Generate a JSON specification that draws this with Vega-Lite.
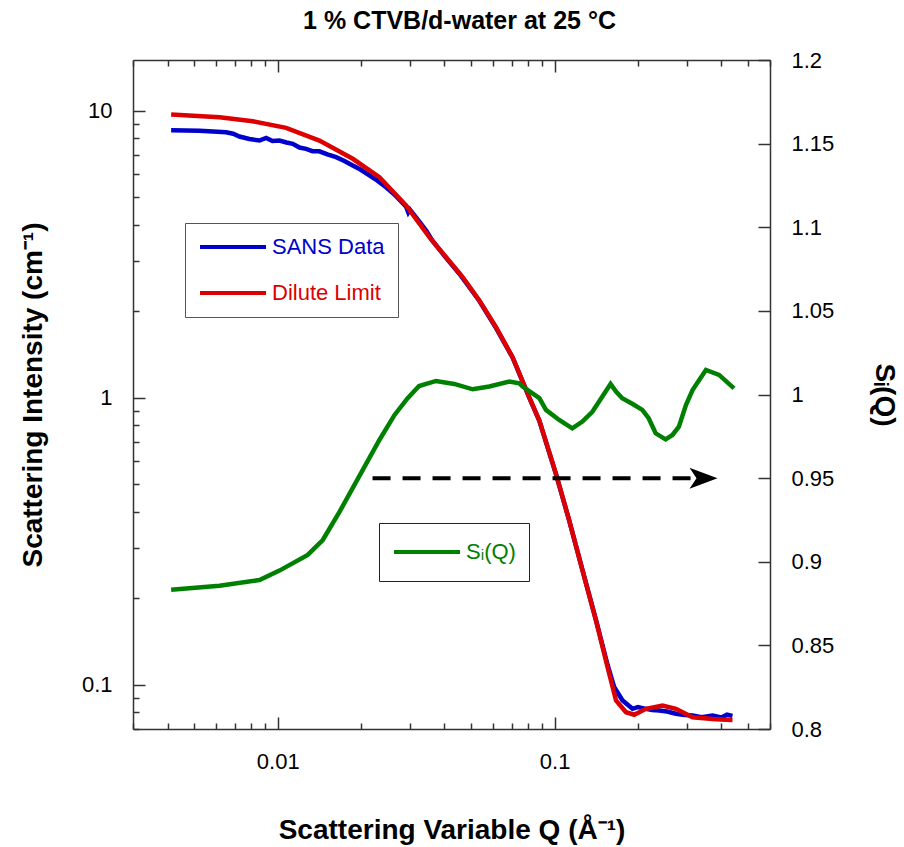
{
  "$schema": "https://vega.github.io/schema/vega-lite/v6.json",
  "autosize": {"type": "none"},
  "padding": {"left": 133, "top": 60, "right": 134, "bottom": 118},
  "width": 637,
  "height": 669,
  "background": "white",
  "title": {
    "text": "1 % CTVB/d-water at 25 °C",
    "font": "Liberation Sans",
    "fontSize": 25,
    "fontWeight": "bold",
    "color": "black",
    "anchor": "middle",
    "offset": 15,
    "dx": 8
  },
  "config": {
    "view": {"stroke": null},
    "axis": {
      "labelFont": "Liberation Sans",
      "labelFontSize": 22,
      "labelColor": "black",
      "titleFont": "Liberation Sans",
      "titleFontSize": 28,
      "titleFontWeight": "bold",
      "titleColor": "black",
      "domainColor": "#333",
      "domainWidth": 1.5,
      "tickColor": "#333",
      "tickWidth": 1.5,
      "grid": false,
      "labelOverlap": false,
      "labelBound": false,
      "labelFlush": false
    },
    "legend": {
      "labelFont": "Liberation Sans",
      "labelFontSize": 22,
      "symbolType": "stroke",
      "symbolStrokeWidth": 4,
      "symbolSize": 4356,
      "labelOffset": 4,
      "fillColor": "white",
      "padding": 13,
      "title": null,
      "orient": "none"
    }
  },
  "datasets": {
    "curves": [
      {"series": "SANS Data", "q": 0.00412, "i": 8.54},
      {"series": "SANS Data", "q": 0.00522, "i": 8.51},
      {"series": "SANS Data", "q": 0.00651, "i": 8.40},
      {"series": "SANS Data", "q": 0.0069, "i": 8.30},
      {"series": "SANS Data", "q": 0.00727, "i": 8.12},
      {"series": "SANS Data", "q": 0.0079, "i": 7.96},
      {"series": "SANS Data", "q": 0.00859, "i": 7.86},
      {"series": "SANS Data", "q": 0.00908, "i": 8.03},
      {"series": "SANS Data", "q": 0.00957, "i": 7.83},
      {"series": "SANS Data", "q": 0.01014, "i": 7.86},
      {"series": "SANS Data", "q": 0.01075, "i": 7.74},
      {"series": "SANS Data", "q": 0.01133, "i": 7.66},
      {"series": "SANS Data", "q": 0.01198, "i": 7.43},
      {"series": "SANS Data", "q": 0.01266, "i": 7.35},
      {"series": "SANS Data", "q": 0.01335, "i": 7.22},
      {"series": "SANS Data", "q": 0.01414, "i": 7.21},
      {"series": "SANS Data", "q": 0.01511, "i": 7.03},
      {"series": "SANS Data", "q": 0.01625, "i": 6.88},
      {"series": "SANS Data", "q": 0.01741, "i": 6.67},
      {"series": "SANS Data", "q": 0.01866, "i": 6.43},
      {"series": "SANS Data", "q": 0.01989, "i": 6.23},
      {"series": "SANS Data", "q": 0.02143, "i": 5.94},
      {"series": "SANS Data", "q": 0.02291, "i": 5.70},
      {"series": "SANS Data", "q": 0.02462, "i": 5.40},
      {"series": "SANS Data", "q": 0.02638, "i": 5.10},
      {"series": "SANS Data", "q": 0.02908, "i": 4.62},
      {"series": "SANS Data", "q": 0.0296, "i": 4.42},
      {"series": "SANS Data", "q": 0.0300, "i": 4.52},
      {"series": "SANS Data", "q": 0.03248, "i": 4.10},
      {"series": "SANS Data", "q": 0.0345, "i": 3.80},
      {"series": "SANS Data", "q": 0.03618, "i": 3.52},
      {"series": "SANS Data", "q": 0.04, "i": 3.12},
      {"series": "SANS Data", "q": 0.0453, "i": 2.70},
      {"series": "SANS Data", "q": 0.0535, "i": 2.17},
      {"series": "SANS Data", "q": 0.0614, "i": 1.75},
      {"series": "SANS Data", "q": 0.0705, "i": 1.38},
      {"series": "SANS Data", "q": 0.081, "i": 1.00},
      {"series": "SANS Data", "q": 0.0881, "i": 0.83},
      {"series": "SANS Data", "q": 0.1012, "i": 0.54},
      {"series": "SANS Data", "q": 0.113, "i": 0.372},
      {"series": "SANS Data", "q": 0.1262, "i": 0.25},
      {"series": "SANS Data", "q": 0.1411, "i": 0.168},
      {"series": "SANS Data", "q": 0.1554, "i": 0.117},
      {"series": "SANS Data", "q": 0.1643, "i": 0.0978},
      {"series": "SANS Data", "q": 0.176, "i": 0.088},
      {"series": "SANS Data", "q": 0.1912, "i": 0.0823},
      {"series": "SANS Data", "q": 0.2, "i": 0.0835},
      {"series": "SANS Data", "q": 0.2138, "i": 0.0823},
      {"series": "SANS Data", "q": 0.225, "i": 0.0815},
      {"series": "SANS Data", "q": 0.2388, "i": 0.0812},
      {"series": "SANS Data", "q": 0.255, "i": 0.0805},
      {"series": "SANS Data", "q": 0.2744, "i": 0.0791},
      {"series": "SANS Data", "q": 0.29, "i": 0.0785},
      {"series": "SANS Data", "q": 0.315, "i": 0.078},
      {"series": "SANS Data", "q": 0.34, "i": 0.077},
      {"series": "SANS Data", "q": 0.372, "i": 0.078},
      {"series": "SANS Data", "q": 0.40, "i": 0.0768},
      {"series": "SANS Data", "q": 0.42, "i": 0.0785},
      {"series": "SANS Data", "q": 0.4392, "i": 0.0778},
      {"series": "Dilute Limit", "q": 0.00412, "i": 9.68},
      {"series": "Dilute Limit", "q": 0.00616, "i": 9.48},
      {"series": "Dilute Limit", "q": 0.00812, "i": 9.18},
      {"series": "Dilute Limit", "q": 0.01072, "i": 8.70},
      {"series": "Dilute Limit", "q": 0.01414, "i": 7.86},
      {"series": "Dilute Limit", "q": 0.01866, "i": 6.79},
      {"series": "Dilute Limit", "q": 0.02329, "i": 5.86},
      {"series": "Dilute Limit", "q": 0.02908, "i": 4.67},
      {"series": "Dilute Limit", "q": 0.03529, "i": 3.62},
      {"series": "Dilute Limit", "q": 0.04655, "i": 2.63},
      {"series": "Dilute Limit", "q": 0.05348, "i": 2.18},
      {"series": "Dilute Limit", "q": 0.06143, "i": 1.758},
      {"series": "Dilute Limit", "q": 0.07053, "i": 1.382},
      {"series": "Dilute Limit", "q": 0.08102, "i": 1.002},
      {"series": "Dilute Limit", "q": 0.0881, "i": 0.8315},
      {"series": "Dilute Limit", "q": 0.1012, "i": 0.542},
      {"series": "Dilute Limit", "q": 0.113, "i": 0.3727},
      {"series": "Dilute Limit", "q": 0.1262, "i": 0.2495},
      {"series": "Dilute Limit", "q": 0.1411, "i": 0.1671},
      {"series": "Dilute Limit", "q": 0.1554, "i": 0.1149},
      {"series": "Dilute Limit", "q": 0.1667, "i": 0.088},
      {"series": "Dilute Limit", "q": 0.1811, "i": 0.0801},
      {"series": "Dilute Limit", "q": 0.194, "i": 0.0785},
      {"series": "Dilute Limit", "q": 0.2138, "i": 0.0823},
      {"series": "Dilute Limit", "q": 0.2455, "i": 0.0845},
      {"series": "Dilute Limit", "q": 0.2744, "i": 0.0823},
      {"series": "Dilute Limit", "q": 0.315, "i": 0.0769},
      {"series": "Dilute Limit", "q": 0.372, "i": 0.0758},
      {"series": "Dilute Limit", "q": 0.40, "i": 0.0755},
      {"series": "Dilute Limit", "q": 0.4392, "i": 0.0752}
    ],
    "sq": [
      {"series": "Sᵢ(Q)", "q": 0.00412, "s": 0.8833},
      {"series": "Sᵢ(Q)", "q": 0.00616, "s": 0.8857},
      {"series": "Sᵢ(Q)", "q": 0.00859, "s": 0.8891},
      {"series": "Sᵢ(Q)", "q": 0.01014, "s": 0.8947},
      {"series": "Sᵢ(Q)", "q": 0.01283, "s": 0.9041},
      {"series": "Sᵢ(Q)", "q": 0.01454, "s": 0.913},
      {"series": "Sᵢ(Q)", "q": 0.01671, "s": 0.9298},
      {"series": "Sᵢ(Q)", "q": 0.01973, "s": 0.9513},
      {"series": "Sᵢ(Q)", "q": 0.02329, "s": 0.9728},
      {"series": "Sᵢ(Q)", "q": 0.02642, "s": 0.9878},
      {"series": "Sᵢ(Q)", "q": 0.02946, "s": 0.9978},
      {"series": "Sᵢ(Q)", "q": 0.0324, "s": 1.0051},
      {"series": "Sᵢ(Q)", "q": 0.0373, "s": 1.0081},
      {"series": "Sᵢ(Q)", "q": 0.0434, "s": 1.0063},
      {"series": "Sᵢ(Q)", "q": 0.0506, "s": 1.0031},
      {"series": "Sᵢ(Q)", "q": 0.0581, "s": 1.0048},
      {"series": "Sᵢ(Q)", "q": 0.0686, "s": 1.0077},
      {"series": "Sᵢ(Q)", "q": 0.0746, "s": 1.0067},
      {"series": "Sᵢ(Q)", "q": 0.0767, "s": 1.0047},
      {"series": "Sᵢ(Q)", "q": 0.0881, "s": 0.9978},
      {"series": "Sᵢ(Q)", "q": 0.0931, "s": 0.9908},
      {"series": "Sᵢ(Q)", "q": 0.1039, "s": 0.9848},
      {"series": "Sᵢ(Q)", "q": 0.1159, "s": 0.9798},
      {"series": "Sᵢ(Q)", "q": 0.126, "s": 0.9838},
      {"series": "Sᵢ(Q)", "q": 0.1369, "s": 0.9897},
      {"series": "Sᵢ(Q)", "q": 0.1593, "s": 1.0063},
      {"series": "Sᵢ(Q)", "q": 0.1667, "s": 1.0017},
      {"series": "Sᵢ(Q)", "q": 0.1755, "s": 0.9978},
      {"series": "Sᵢ(Q)", "q": 0.1915, "s": 0.9943},
      {"series": "Sᵢ(Q)", "q": 0.2074, "s": 0.9908},
      {"series": "Sᵢ(Q)", "q": 0.2187, "s": 0.9858},
      {"series": "Sᵢ(Q)", "q": 0.2318, "s": 0.9768},
      {"series": "Sᵢ(Q)", "q": 0.2518, "s": 0.9732},
      {"series": "Sᵢ(Q)", "q": 0.2665, "s": 0.9758},
      {"series": "Sᵢ(Q)", "q": 0.2812, "s": 0.9808},
      {"series": "Sᵢ(Q)", "q": 0.2982, "s": 0.9937},
      {"series": "Sᵢ(Q)", "q": 0.315, "s": 1.0027},
      {"series": "Sᵢ(Q)", "q": 0.3521, "s": 1.0147},
      {"series": "Sᵢ(Q)", "q": 0.3928, "s": 1.0117},
      {"series": "Sᵢ(Q)", "q": 0.4448, "s": 1.0037}
    ],
    "arrowline": [{"q1": 0.022, "q2": 0.315, "s": 0.95}],
    "arrowhead": [{"q": 0.3877, "s": 0.95}]
  },
  "layer": [
    {
      "data": {"name": "curves"},
      "encoding": {
        "x": {
          "field": "q",
          "type": "quantitative",
          "scale": {"type": "log", "domain": [0.003, 0.6], "nice": false},
          "axis": {
            "orient": "bottom",
            "values": [0.003, 0.004, 0.005, 0.006, 0.007, 0.008, 0.009, 0.01, 0.02, 0.03, 0.04, 0.05, 0.06, 0.07, 0.08, 0.09, 0.1, 0.2, 0.3, 0.4, 0.5, 0.6],
            "tickSize": {"condition": {"test": "datum.value == 0.01 || datum.value == 0.1", "value": -12}, "value": -6},
            "labelExpr": "datum.value == 0.01 ? '0.01' : datum.value == 0.1 ? '0.1' : ''",
            "labelPadding": 34,
            "title": "Scattering Variable Q (Å⁻¹)",
            "titlePadding": 38
          }
        },
        "y": {
          "field": "i",
          "type": "quantitative",
          "scale": {"type": "log", "domain": [0.07, 15], "nice": false},
          "axis": {
            "orient": "left",
            "values": [0.07, 0.08, 0.09, 0.1, 0.2, 0.3, 0.4, 0.5, 0.6, 0.7, 0.8, 0.9, 1, 2, 3, 4, 5, 6, 7, 8, 9, 10],
            "tickSize": {"condition": {"test": "datum.value == 0.1 || datum.value == 1 || datum.value == 10", "value": -12}, "value": -6},
            "labelExpr": "datum.value == 0.1 ? '0.1' : datum.value == 1 ? '1' : datum.value == 10 ? '10' : ''",
            "labelPadding": 33,
            "title": "Scattering Intensity (cm⁻¹)",
            "titlePadding": 34
          }
        },
        "color": {
          "field": "series",
          "type": "nominal",
          "scale": {"domain": ["SANS Data", "Dilute Limit"], "range": ["#0000cc", "#dd0000"]},
          "legend": {
            "legendX": 52,
            "legendY": 163,
            "clipHeight": 22,
            "rowPadding": 24,
            "strokeColor": "#555",
            "labelColor": {"expr": "datum.label == 'SANS Data' ? '#0000cc' : '#dd0000'"}
          }
        }
      },
      "layer": [
        {"transform": [{"filter": "datum.series == 'SANS Data'"}], "mark": {"type": "line", "strokeWidth": 4.5}},
        {"transform": [{"filter": "datum.series == 'Dilute Limit'"}], "mark": {"type": "line", "strokeWidth": 4.5}}
      ]
    },
    {
      "layer": [
        {
          "data": {"name": "sq"},
          "mark": {"type": "line", "strokeWidth": 4.5},
          "encoding": {
            "x": {
              "field": "q",
              "type": "quantitative",
              "scale": {"type": "log", "domain": [0.003, 0.6], "nice": false},
              "axis": {
                "orient": "top",
                "values": [0.003, 0.004, 0.005, 0.006, 0.007, 0.008, 0.009, 0.01, 0.02, 0.03, 0.04, 0.05, 0.06, 0.07, 0.08, 0.09, 0.1, 0.2, 0.3, 0.4, 0.5, 0.6],
                "tickSize": {"condition": {"test": "datum.value == 0.01 || datum.value == 0.1", "value": -12}, "value": -6},
                "labels": false,
                "title": null
              }
            },
            "y": {
              "field": "s",
              "type": "quantitative",
              "scale": {"domain": [0.8, 1.2], "nice": false},
              "axis": {
                "orient": "right",
                "values": [0.8, 0.85, 0.9, 0.95, 1, 1.05, 1.1, 1.15, 1.2],
                "format": "~g",
                "tickSize": -12,
                "labelPadding": 33,
                "title": "Sᵢ(Q)",
                "titleAngle": 90,
                "titlePadding": 36
              }
            },
            "color": {
              "field": "series",
              "type": "nominal",
              "scale": {"domain": ["Sᵢ(Q)"], "range": ["#008000"]},
              "legend": {
                "legendX": 246,
                "legendY": 463,
                "clipHeight": 32,
                "strokeColor": "#222",
                "labelColor": "#008000"
              }
            }
          }
        },
        {
          "data": {"name": "arrowline"},
          "mark": {"type": "rule", "color": "black", "strokeWidth": 4, "strokeDash": [18, 12]},
          "encoding": {
            "x": {"field": "q1", "type": "quantitative"},
            "x2": {"field": "q2"},
            "y": {"field": "s", "type": "quantitative"}
          }
        },
        {
          "data": {"name": "arrowhead"},
          "mark": {"type": "point", "filled": true, "color": "black", "opacity": 1, "size": 784, "shape": "M 0 0 L -2 -0.75 L -1.5 0 L -2 0.75 Z"},
          "encoding": {
            "x": {"field": "q", "type": "quantitative"},
            "y": {"field": "s", "type": "quantitative"}
          }
        }
      ]
    }
  ],
  "resolve": {
    "scale": {"y": "independent", "color": "independent"},
    "axis": {"x": "independent", "y": "independent"},
    "legend": {"color": "independent"}
  }
}
